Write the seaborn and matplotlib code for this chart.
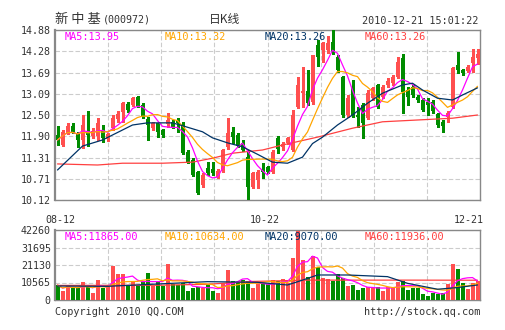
import numpy as np
import pandas as pd
import matplotlib
matplotlib.use("Agg")
import matplotlib.pyplot as plt
import seaborn as sns

# ---------------- data ----------------
opens = [11.95, 11.66, 12.01, 12.19, 11.99, 11.80, 12.05, 11.90, 11.90, 12.08,
         11.82, 12.13, 12.38, 12.59, 12.81, 12.78, 13.01, 12.78, 12.40, 12.13,
         12.27, 12.08, 12.25, 12.31, 12.36, 12.22, 11.47, 11.24, 10.91, 10.54,
         11.01, 10.98, 10.77, 10.94, 11.60, 12.03, 11.94, 11.71, 11.33, 10.49,
         10.68, 11.00, 11.05, 10.91, 11.85, 11.61, 11.73, 11.52, 12.73, 13.13,
         13.18, 12.87, 14.46, 14.32, 14.32, 14.55, 14.13, 13.57, 12.50, 13.29,
         12.50, 12.78, 12.41, 12.97, 13.34, 13.01, 13.34, 13.39, 13.57, 14.09,
         13.20, 13.29, 13.01, 12.92, 12.87, 12.87, 12.53, 12.31, 12.45, 12.73,
         13.90, 13.76, 13.74, 13.95, 14.11]
closes = [11.80, 12.03, 12.19, 12.03, 11.80, 12.22, 11.95, 12.05, 12.27, 11.85,
          11.97, 12.43, 12.53, 12.83, 12.64, 12.97, 12.75, 12.45, 12.22, 12.27,
          12.03, 11.94, 12.36, 12.16, 12.27, 11.45, 11.19, 10.82, 10.31, 10.82,
          10.87, 10.87, 10.94, 11.52, 12.00, 11.89, 11.62, 11.52, 10.49, 10.87,
          10.91, 10.91, 10.91, 11.47, 11.55, 11.70, 11.85, 12.50, 13.34, 13.18,
          12.83, 14.18, 14.13, 14.51, 14.51, 14.23, 13.76, 12.50, 12.97, 12.50,
          12.45, 12.27, 13.11, 13.25, 12.73, 13.29, 13.46, 13.57, 13.99, 13.15,
          13.01, 13.06, 12.92, 12.64, 12.78, 12.62, 12.22, 12.19, 12.55, 13.81,
          13.76, 13.69, 13.85, 14.13, 14.21]
highs = [12.20, 12.08, 12.29, 12.29, 12.02, 12.50, 12.60, 12.15, 12.41, 12.22,
         12.01, 12.50, 12.60, 12.87, 12.87, 13.01, 13.03, 12.83, 12.45, 12.31,
         12.29, 12.10, 12.57, 12.36, 12.41, 12.30, 11.52, 11.29, 10.94, 10.87,
         11.19, 11.19, 10.98, 11.54, 12.43, 12.17, 11.99, 11.80, 11.52, 10.91,
         10.96, 11.15, 11.08, 11.52, 11.90, 11.75, 11.88, 12.64, 13.57, 13.85,
         13.75, 14.18, 14.60, 14.55, 14.70, 14.88, 14.18, 13.60, 13.05, 13.48,
         12.73, 12.85, 13.20, 13.29, 13.38, 13.34, 13.55, 13.62, 14.13, 14.21,
         13.29, 13.34, 13.06, 12.97, 12.97, 12.92, 12.57, 12.36, 12.60, 13.85,
         14.27, 13.80, 13.90, 14.34, 14.34]
lows = [11.65, 11.62, 11.98, 11.99, 11.60, 11.57, 11.63, 11.85, 11.80, 11.75,
        11.78, 12.08, 12.31, 12.31, 12.59, 12.75, 12.73, 12.41, 11.80, 12.08,
        11.89, 11.89, 12.17, 12.13, 12.03, 11.40, 11.15, 10.79, 10.29, 10.49,
        10.82, 10.82, 10.73, 10.91, 11.55, 11.71, 11.60, 11.50, 10.12, 10.45,
        10.45, 10.73, 10.87, 10.87, 11.45, 11.52, 11.70, 11.50, 12.69, 12.73,
        12.78, 12.82, 13.87, 13.99, 14.25, 14.20, 13.70, 12.45, 12.45, 12.45,
        12.17, 11.85, 12.38, 12.92, 12.69, 12.97, 13.29, 13.34, 13.55, 12.55,
        12.78, 13.01, 12.87, 12.60, 12.50, 12.55, 12.17, 12.03, 12.31, 12.69,
        13.67, 13.62, 13.70, 13.71, 13.92]
volumes = [9060, 5440, 9000, 7050, 7050, 10670, 7650, 4430, 12080, 7050,
           8055, 20730, 15700, 15700, 9060, 11070, 8455, 11070, 16500, 8455,
           11070, 8455, 21735, 9665, 9060, 10470, 5440, 7050, 8055, 7050,
           9460, 5440, 4030, 10470, 18110, 11480, 11070, 12080, 11680, 7450,
           9460, 9460, 9460, 12080, 11480, 12680, 10065, 25560, 41800, 24150,
           14090, 26600, 20130, 13080, 12480, 11675, 15700, 13080, 8455, 9060,
           6040, 7450, 7650, 7650, 7650, 5640, 7650, 7650, 10870, 11470,
           6040, 7050, 7450, 3420, 2620, 4030, 3420, 4030, 9660, 21735,
           19000, 10000, 6500, 10500, 11500]

# long moving averages (they reach back before the first shown day)
price_ma20_idx = [0, 5, 9, 11, 15, 18, 23, 25, 29, 31, 34, 37, 40, 43, 46, 49,
                  51, 53, 56, 59, 62, 65, 69, 71, 73, 76, 79, 81, 84]
price_ma20_val = [10.96, 11.63, 11.80, 11.94, 12.22, 12.28, 12.28, 12.20, 12.03,
                  11.86, 11.72, 11.61, 11.40, 11.18, 11.15, 11.32, 11.70, 11.88,
                  12.22, 12.50, 12.83, 13.11, 13.34, 13.39, 13.20, 12.97, 12.92,
                  13.06, 13.26]
price_ma60_idx = [0, 8, 13, 21, 27, 31, 35, 41, 45, 52, 59, 65, 72, 79, 84]
price_ma60_val = [11.13, 11.10, 11.15, 11.15, 11.18, 11.29, 11.43, 11.52, 11.66,
                  11.88, 12.13, 12.31, 12.36, 12.41, 12.50]
vol_ma20_idx = [0, 10, 20, 30, 40, 46, 49, 52, 58, 66, 70, 76, 80, 84]
vol_ma20_val = [8450, 8250, 9660, 11070, 10670, 9060, 12000, 15100, 15100, 14100,
                10070, 6500, 7500, 9070]
vol_ma60_idx = [0, 20, 30, 39, 50, 70, 84]
vol_ma60_val = [8800, 8900, 9500, 11200, 12000, 12000, 11936]

price_ticks = [14.88, 14.28, 13.69, 13.09, 12.50, 11.90, 11.31, 10.71, 10.12]
vol_ticks = [42260, 31695, 21130, 10565, 0]
date_labels = ["08-12", "10-22", "12-21"]
date_pos = [0.5, 41.4, 82.3]

price_legend = ["MA5:13.95", "MA10:13.32", "MA20:13.26", "MA60:13.26"]
vol_legend = ["MA5:11865.00", "MA10:10634.00", "MA20:9070.00", "MA60:11936.00"]

# ---------------- style ----------------
RED = "#FF4F4F"
GREEN = "#008C00"
C_MA5 = "#FF00FF"
C_MA10 = "#FFA500"
C_MA20 = "#003366"
C_MA60 = "#FF4040"
TXT = "#333333"
GRID = "#CCCCCC"
FRAME = "#888888"

sns.set_style("white")
plt.rcParams["font.family"] = ["DejaVu Sans Mono", "Noto Sans CJK SC"]

W, H = 505, 330
fig = plt.figure(figsize=(W / 100, H / 100), dpi=100)


def rect(l, t, r, b):
    return [l / W, 1 - b / H, (r - l) / W, (b - t) / H]


ax = fig.add_axes(rect(55, 30, 480, 200))
axv = fig.add_axes(rect(55, 230, 480, 300))

df = pd.DataFrame(dict(i=np.arange(len(closes)), o=opens, c=closes,
                       h=highs, l=lows, v=volumes))
df["dir"] = np.where(df.c >= df.o, "up", "down")
cols = np.where(df.dir == "up", RED, GREEN)

n = len(df)
xlo, xhi = -0.5, n - 0.5
grid_x = [xlo + (xhi - xlo) * k / 8 for k in range(1, 8)]

# ---------------- price panel ----------------
ax.vlines(df.i, df.l, df.h, colors=cols, lw=1.0, zorder=3, antialiased=False)
body = (df.c - df.o).abs().clip(lower=0.015)
ax.bar(df.i, body, bottom=df[["o", "c"]].min(axis=1), width=0.8,
       color=cols, lw=0, zorder=4, antialiased=False)

ma5 = df.c.rolling(5, min_periods=1).mean()
ma10 = df.c.rolling(10, min_periods=1).mean()
sns.lineplot(x=df.i, y=ma5, ax=ax, color=C_MA5, lw=0.9, zorder=6)
sns.lineplot(x=df.i, y=ma10, ax=ax, color=C_MA10, lw=0.9, zorder=6)
sns.lineplot(x=price_ma20_idx, y=price_ma20_val, ax=ax, color=C_MA20, lw=0.9, zorder=6)
sns.lineplot(x=price_ma60_idx, y=price_ma60_val, ax=ax, color=C_MA60, lw=0.9, zorder=5)

ax.set_xlim(xlo, xhi)
ax.set_ylim(price_ticks[-1], price_ticks[0])
ax.set_yticks(price_ticks)
ax.set_yticklabels([f"{t:.2f}" for t in price_ticks])
ax.set_xticks(date_pos)
ax.set_xticklabels(date_labels)
ax.set_xticks(grid_x, minor=True)

# ---------------- volume panel ----------------
axv.bar(df.i, df.v, width=0.8, color=cols, lw=0, zorder=3, antialiased=False)
vma5 = df.v.rolling(5, min_periods=1).mean()
vma10 = df.v.rolling(10, min_periods=1).mean()
sns.lineplot(x=df.i, y=vma5, ax=axv, color=C_MA5, lw=0.9, zorder=6)
sns.lineplot(x=df.i, y=vma10, ax=axv, color=C_MA10, lw=0.9, zorder=6)
sns.lineplot(x=vol_ma20_idx, y=vol_ma20_val, ax=axv, color=C_MA20, lw=0.9, zorder=6)
sns.lineplot(x=vol_ma60_idx, y=vol_ma60_val, ax=axv, color=C_MA60, lw=0.9, zorder=5)
axv.set_xlim(xlo, xhi)
axv.set_ylim(0, vol_ticks[0])
axv.set_yticks(vol_ticks)
axv.set_yticklabels([str(t) for t in vol_ticks])
axv.set_xticks([])
axv.set_xticks(grid_x, minor=True)

for a in (ax, axv):
    a.set_xlabel("")
    a.set_ylabel("")
    a.grid(True, axis="y", which="major", color=GRID, ls=(0, (4, 2)), lw=0.8, zorder=0)
    a.grid(True, axis="x", which="minor", color=GRID, ls=(0, (4, 2)), lw=0.8, zorder=0)
    a.grid(False, axis="x", which="major")
    a.tick_params(axis="both", which="both", length=0)
    a.tick_params(axis="y", pad=3, labelsize=7.2, labelcolor=TXT)
    a.set_axisbelow(True)
    for s in a.spines.values():
        s.set_color(FRAME)
        s.set_linewidth(1.0)
    a.spines["left"].set_linewidth(1.6)
ax.tick_params(axis="x", pad=11, labelsize=7.2, labelcolor=TXT)

# legends (as text, coloured like the lines)
leg_x = [65, 165, 265, 365]
leg_c = [C_MA5, C_MA10, C_MA20, C_MA60]
for xp, t, c in zip(leg_x, price_legend, leg_c):
    ax.text((xp - 55) / 425, (200 - 37) / 170, t, transform=ax.transAxes,
            color=c, fontsize=7.4, va="center", ha="left", zorder=10)
for xp, t, c in zip(leg_x, vol_legend, leg_c):
    axv.text((xp - 55) / 425, (300 - 237) / 70, t, transform=axv.transAxes,
             color=c, fontsize=7.4, va="center", ha="left", zorder=10)

# header / footer texts
fig.text(55 / W, 1 - 20 / H, "新 中 基", family=["Noto Sans CJK SC", "DejaVu Sans"],
         fontsize=9.5, color=TXT, va="center", ha="left")
fig.text(103 / W, 1 - 20 / H, "(000972)", fontsize=7.2, color=TXT, va="center", ha="left")
fig.text(225 / W, 1 - 20 / H, "日K线", family=["Noto Sans CJK SC", "DejaVu Sans"],
         fontsize=8.5, color=TXT, va="center", ha="center")
fig.text(478 / W, 1 - 21 / H, "2010-12-21 15:01:22", fontsize=7.3, color=TXT,
         va="center", ha="right")
fig.text(55 / W, 1 - 312 / H, "Copyright 2010 QQ.COM", fontsize=7.3, color=TXT,
         va="center", ha="left")
fig.text(480 / W, 1 - 312 / H, "http://stock.qq.com", fontsize=7.3, color=TXT,
         va="center", ha="right")

fig.savefig("out.png", dpi=100, facecolor="white")
